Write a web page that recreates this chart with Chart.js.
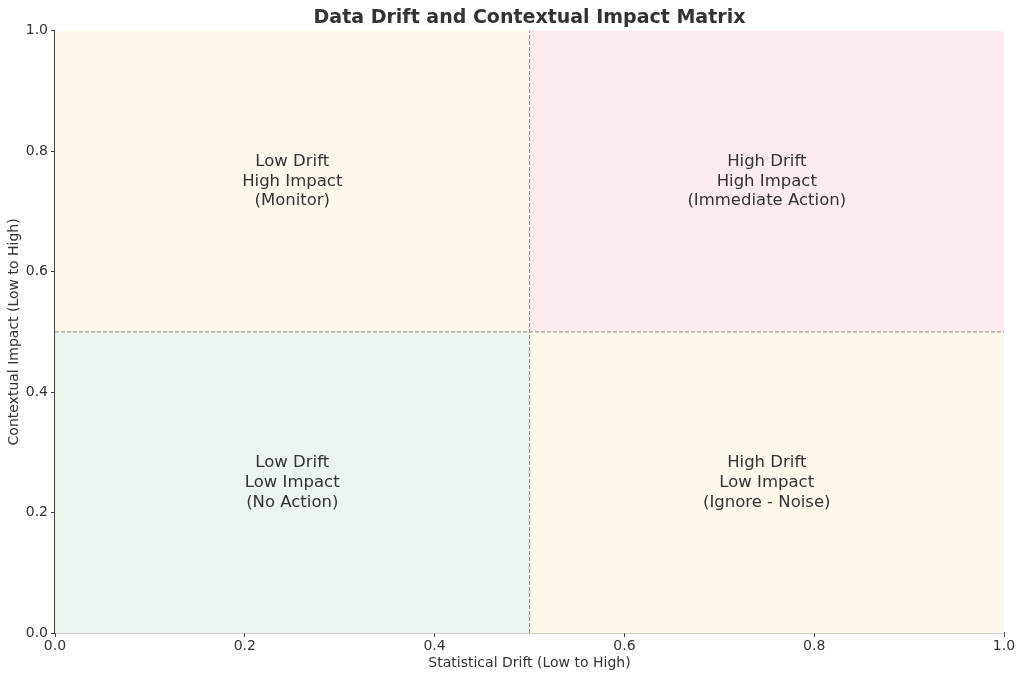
<!DOCTYPE html>
<html>
<head>
<meta charset="utf-8">
<script src="https://cdn.jsdelivr.net/npm/chart.js@4/dist/chart.umd.min.js"></script>
<style>
  body { margin: 0; background: #fff; }
  #wrap { width: 1024px; height: 680px; }
</style>
</head>
<body>
<div id="wrap"><canvas id="matrix" width="1024" height="680"></canvas></div>
<script>
// quadrant boundaries on both axes
const xBounds = [0, 0.5, 1];
const yBounds = [0, 0.5, 1];
const threshold = 0.5;
const tickValues = [0, 0.2, 0.4, 0.6, 0.8, 1.0];

// quadrants: [x range index, y range index]
const quadrantCells = [[0, 1], [1, 1], [0, 0], [1, 0]];
const quadrantColors = ['#fef8ec', '#fbedee', '#edf5ef', '#fef8ec'];
const quadrantLabels = [
    ['Low Drift', 'High Impact', '(Monitor)'],
    ['High Drift', 'High Impact', '(Immediate Action)'],
    ['Low Drift', 'Low Impact', '(No Action)'],
    ['High Drift', 'Low Impact', '(Ignore - Noise)']
];

const textColor = '#333333';
Chart.defaults.font.family = '"DejaVu Sans", sans-serif';
Chart.defaults.color = textColor;

const quadrantPlugin = {
    id: 'quadrants',
    beforeDatasetsDraw(chart) {
        const { ctx, scales: { x, y } } = chart;
        ctx.save();
        quadrantCells.forEach(function (cell, i) {
            const x0 = x.getPixelForValue(xBounds[cell[0]]);
            const x1 = x.getPixelForValue(xBounds[cell[0] + 1]);
            const y0 = y.getPixelForValue(yBounds[cell[1]]);
            const y1 = y.getPixelForValue(yBounds[cell[1] + 1]);
            ctx.fillStyle = quadrantColors[i];
            ctx.fillRect(x0, y1, x1 - x0, y0 - y1);
        });
        ctx.restore();
    },
    afterDatasetsDraw(chart) {
        const { ctx, scales: { x, y } } = chart;
        ctx.save();
        ctx.font = '16.5px "DejaVu Sans", sans-serif';
        ctx.fillStyle = textColor;
        ctx.textAlign = 'center';
        ctx.textBaseline = 'middle';
        const lineH = 19.8;
        quadrantCells.forEach(function (cell, i) {
            const cx = x.getPixelForValue((xBounds[cell[0]] + xBounds[cell[0] + 1]) / 2);
            const cy = y.getPixelForValue((yBounds[cell[1]] + yBounds[cell[1] + 1]) / 2);
            const lines = quadrantLabels[i];
            lines.forEach(function (t, k) {
                ctx.fillText(t, cx, cy + (k - (lines.length - 1) / 2) * lineH);
            });
        });
        ctx.restore();
    }
};

const dashStyle = {
    type: 'line',
    showLine: true,
    borderColor: '#8c8c8c',
    borderWidth: 1,
    borderDash: [4, 2],
    pointRadius: 0,
    fill: false
};

new Chart(document.getElementById('matrix').getContext('2d'), {
    type: 'scatter',
    data: {
        datasets: [
            Object.assign({ data: [{ x: threshold, y: 0 }, { x: threshold, y: 1 }] }, dashStyle),
            Object.assign({ data: [{ x: 0, y: threshold }, { x: 1, y: threshold }] }, dashStyle)
        ]
    },
    options: {
        responsive: false,
        animation: false,
        layout: { padding: { left: 0, right: 20, top: 0, bottom: 0 } },
        plugins: {
            legend: { display: false },
            tooltip: { enabled: false },
            title: {
                display: true,
                fullSize: false,
                text: 'Data Drift and Contextual Impact Matrix',
                font: { size: 19, weight: 'bold' },
                color: textColor,
                padding: { top: 7, bottom: 1 }
            }
        },
        scales: {
            x: {
                type: 'linear',
                min: 0,
                max: 1,
                afterBuildTicks(scale) { scale.ticks = tickValues.map(v => ({ value: v })); },
                afterFit(scale) { scale.height = 47; },
                ticks: {
                    font: { size: 14 },
                    color: textColor,
                    padding: 1,
                    maxRotation: 0,
                    callback: v => v.toFixed(1)
                },
                grid: { drawOnChartArea: false, tickLength: 4, tickColor: '#444', tickWidth: 1 },
                border: { display: true, color: '#444', width: 1.2 },
                title: {
                    display: true,
                    text: 'Statistical Drift (Low to High)',
                    font: { size: 14 },
                    color: textColor,
                    padding: { top: 0, bottom: 8 }
                }
            },
            y: {
                type: 'linear',
                min: 0,
                max: 1,
                afterBuildTicks(scale) { scale.ticks = tickValues.map(v => ({ value: v })); },
                afterFit(scale) { scale.width = 55; },
                ticks: {
                    font: { size: 14 },
                    color: textColor,
                    padding: 3,
                    callback: v => v.toFixed(1)
                },
                grid: { drawOnChartArea: false, tickLength: 4, tickColor: '#444', tickWidth: 1 },
                border: { display: true, color: '#444', width: 1.2 },
                title: {
                    display: true,
                    text: 'Contextual Impact (Low to High)',
                    font: { size: 14 },
                    color: textColor,
                    padding: { top: 6, bottom: 0 }
                }
            }
        }
    },
    plugins: [quadrantPlugin]
});
</script>
</body>
</html>
